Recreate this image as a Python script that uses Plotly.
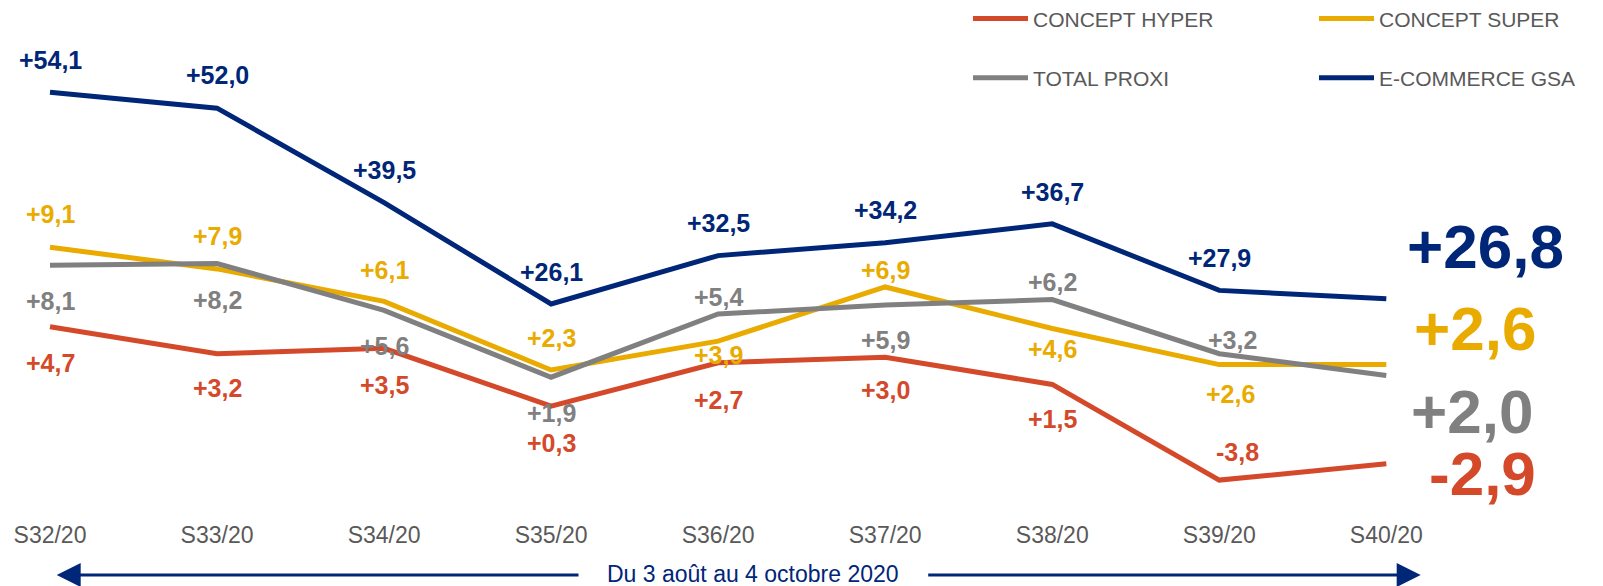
import plotly.graph_objects as go

# ---------------- data ----------------
weeks = ["S32/20", "S33/20", "S34/20", "S35/20", "S36/20", "S37/20", "S38/20", "S39/20", "S40/20"]
hyper = [4.7, 3.2, 3.5, 0.3, 2.7, 3.0, 1.5, -3.8, -2.9]
super_ = [9.1, 7.9, 6.1, 2.3, 3.9, 6.9, 4.6, 2.6, 2.6]
proxi = [8.1, 8.2, 5.6, 1.9, 5.4, 5.9, 6.2, 3.2, 2.0]
ecom = [54.1, 52.0, 39.5, 26.1, 32.5, 34.2, 36.7, 27.9, 26.8]
names = ["CONCEPT HYPER", "CONCEPT SUPER", "TOTAL PROXI", "E-COMMERCE GSA"]
period_label = "Du 3 août au 4 octobre 2020"

# ---------------- styles ----------------
C_HYPER = "#D4492A"
C_SUPER = "#E9AB00"
C_PROXI = "#808080"
C_ECOM = "#002677"
C_TEXT = "#595959"
FONT = "Liberation Sans, Arial, sans-serif"

W, H = 1603, 586
M_T, M_B = 20, 86
PLOT_H = H - M_T - M_B

# label offsets (pixels, up positive) for points 0..7, and big-label offsets for last point
off_y = {
    "ecom": [32, 33, 33, 32, 33, 33, 32, 32],
    "super": [33, 33, 31, 32, -14, 17, -21, -29],
    "proxi": [-36, -37, -36, -36, 17, -35, 18, 14],
    "hyper": [-36, -34, -37, -37, -37, -33, -35, 28],
}
off_x = {
    "ecom": [0, 0, 0, 0, 0, 0, 0, 0],
    "super": [0, 0, 0, 0, 0, 0, 0, 11],
    "proxi": [0, 0, 0, 0, 0, 0, 0, 13],
    "hyper": [0, 0, 0, 0, 0, 0, 0, 18],
}
big_off = {"ecom": (99, 52), "super": (89, 36), "proxi": (86, -36), "hyper": (96, -10)}

series = [
    ("hyper", names[0], hyper, C_HYPER, "y", "legend"),
    ("super", names[1], super_, C_SUPER, "y", "legend2"),
    ("proxi", names[2], proxi, C_PROXI, "y", "legend"),
    ("ecom", names[3], ecom, C_ECOM, "y2", "legend2"),
]


def fmt(v):
    return f"{v:+.1f}".replace(".", ",")


fig = go.Figure()
for key, name, vals, col, yax, leg in series:
    fig.add_trace(go.Scatter(
        x=weeks, y=vals, name=name, mode="lines",
        line=dict(color=col, width=5),
        yaxis=yax, legend=leg, legendgroup=key,
        hoverinfo="skip",
    ))

annotations = []
for key, name, vals, col, yax, leg in series:
    yref = "y" if yax == "y" else "y2"
    for i, v in enumerate(vals[:-1]):
        annotations.append(dict(
            x=weeks[i], y=v, xref="x", yref=yref, text=f"<b>{fmt(v)}</b>",
            showarrow=False, xanchor="center", yanchor="middle",
            xshift=off_x[key][i], yshift=off_y[key][i],
            font=dict(family=FONT, size=25, color=col),
        ))
    bx, by = big_off[key]
    annotations.append(dict(
        x=weeks[-1], y=vals[-1], xref="x", yref=yref, text=f"<b>{fmt(vals[-1])}</b>",
        showarrow=False, xanchor="center", yanchor="middle",
        xshift=bx, yshift=by,
        font=dict(family=FONT, size=62, color=col),
    ))

# period arrow below the axis
arrow_y = (H - M_B - 575) / PLOT_H
annotations.append(dict(
    x=56.7 / W, y=arrow_y, xref="paper", yref="paper", text="",
    showarrow=True, ax=580 - 56.7, ay=0, axref="pixel", ayref="pixel",
    arrowhead=2, arrowsize=1.6, arrowwidth=3, arrowcolor=C_ECOM,
))
annotations.append(dict(
    x=1420.7 / W, y=arrow_y, xref="paper", yref="paper", text="",
    showarrow=True, ax=926.7 - 1420.7, ay=0, axref="pixel", ayref="pixel",
    arrowhead=2, arrowsize=1.6, arrowwidth=3, arrowcolor=C_ECOM,
))
annotations.append(dict(
    x=752.5 / W, y=(H - M_B - 587.5) / PLOT_H, xref="paper", yref="paper", text=period_label,
    showarrow=False, xanchor="center", yanchor="bottom", borderpad=0,
    font=dict(family=FONT, size=23, color=C_ECOM),
))

x0 = -50.0 / 167.04
x1 = (W - 50.0) / 167.04

legend_common = dict(
    xanchor="left", yanchor="top", y=1.045,
    orientation="v", tracegroupgap=29, itemwidth=55,
    font=dict(family=FONT, size=21, color=C_TEXT),
    bgcolor="rgba(0,0,0,0)",
)

fig.update_layout(
    width=W, height=H,
    margin=dict(l=0, r=0, t=M_T, b=M_B, pad=0, autoexpand=False),
    paper_bgcolor="white", plot_bgcolor="white",
    font=dict(family=FONT, color=C_TEXT),
    showlegend=True,
    legend=dict(x=968 / W, **legend_common),
    legend2=dict(x=1314 / W, **legend_common),
    xaxis=dict(
        type="category", range=[x0, x1], showgrid=False, zeroline=False,
        showline=False, ticks="", ticklabelstandoff=19, automargin=False,
        tickfont=dict(family=FONT, size=23, color=C_TEXT),
        fixedrange=True,
    ),
    yaxis=dict(
        range=[(411.5 - (H - M_B)) / 18.05, (411.5 - M_T) / 18.05],
        visible=False, fixedrange=True,
    ),
    yaxis2=dict(
        range=[(501.3 - (H - M_B)) / 7.56, (501.3 - M_T) / 7.56],
        overlaying="y", visible=False, fixedrange=True,
    ),
    annotations=annotations,
)

fig.write_html(
    "out.html",
    config={"displayModeBar": False},
    post_script="document.body.style.margin='0';document.body.style.overflow='hidden';",
)
